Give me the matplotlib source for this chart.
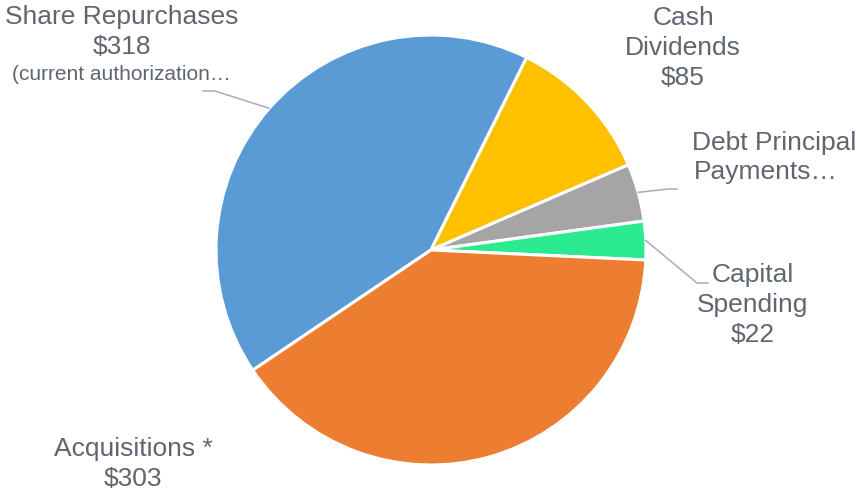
import numpy as np
import matplotlib.pyplot as plt
from matplotlib.lines import Line2D

plt.rcParams['font.family'] = ['Liberation Sans', 'DejaVu Sans']

# Uses of cash ($M)
categories = ["Share Repurchases", "Cash Dividends", "Debt Principal Payments",
              "Capital Spending", "Acquisitions *"]
amounts = [318, 85, 33, 22, 303]
colors = ["#5B9BD5", "#FFC000", "#A5A5A5", "#2BEA8F", "#ED7D31"]

W, H = 856, 494
cx, cy, r = 431, 250, 215
TXT = "#5F6670"
LEAD = "#A9ADB3"

fig = plt.figure(figsize=(W / 100, H / 100), dpi=100)
ax = fig.add_axes([(cx - r) / W, (H - cy - r) / H, 2 * r / W, 2 * r / H])
wedges, _ = ax.pie(amounts, colors=colors, startangle=214, counterclock=False,
                   radius=1, wedgeprops=dict(edgecolor="white", linewidth=2.2))
ax.set_xlim(-1, 1)
ax.set_ylim(-1, 1)
ax.set_aspect("equal")
ax.axis("off")


def px(x, y):
    # pixel position (from top-left) -> figure fraction
    return x / W, 1 - y / H


def edge_point(w):
    a = np.deg2rad((w.theta1 + w.theta2) / 2)
    return cx + r * np.cos(a), cy - r * np.sin(a)


def leader(w, pts):
    x0, y0 = edge_point(w)
    xs = [x0] + [p[0] for p in pts]
    ys = [y0] + [p[1] for p in pts]
    fx, fy = zip(*[px(x, y) for x, y in zip(xs, ys)])
    fig.add_artist(Line2D(fx, fy, color=LEAD, lw=1.1, transform=fig.transFigure))


def label(x, y, s, size=19, **kw):
    fig.text(*px(x, y), s, fontsize=size, color=TXT, ha="center", va="center", **kw)


fmt = ["${}".format(v) for v in amounts]

# Share Repurchases
label(122, 17, categories[0])
label(122, 47, fmt[0])
label(121, 74, "(current authorization\u2026", size=15)
leader(wedges[0], [(215, 91), (203, 91)])

# Cash Dividends
label(683, 18, "Cash")
label(683, 48, "Dividends")
label(683, 78, fmt[1])

# Debt Principal Payments
label(774, 143, "Debt Principal")
label(766, 172, "Payments\u2026")
leader(wedges[2], [(668, 189), (677, 189)])

# Capital Spending
label(753, 275, "Capital")
label(753, 305, "Spending")
label(753, 335, fmt[3])
leader(wedges[3], [(697, 283), (708, 283)])

# Acquisitions
label(133, 449, categories[4])
label(133, 479, fmt[4])

fig.savefig("out.png", dpi=100)
